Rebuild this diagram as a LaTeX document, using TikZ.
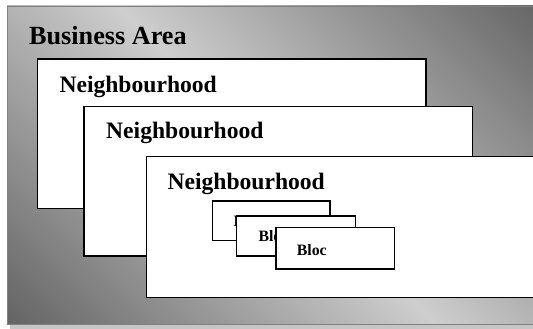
\documentclass[tikz,border=0pt]{standalone}
\usepackage{fontspec}
\setmainfont{Liberation Serif}

\definecolor{areadark}{HTML}{646464}
\definecolor{arealight}{HTML}{CECECE}
\definecolor{areashadow}{HTML}{C6C6C6}
\pgfdeclarehorizontalshading{arearidge}{100bp}{color(0bp)=(areadark); color(14.6bp)=(areadark); color(50bp)=(arealight); color(85.4bp)=(areadark); color(100bp)=(areadark)}

\tikzset{
	areabox/.style={draw=black!50, line width=0.8pt, shading=arearidge, shading angle=45},
	hoodbox/.style={draw=black, fill=white, line width=1.5pt},
	blocbox/.style={draw=black, fill=white, line width=1.3pt},
	arealabel/.style={anchor=base west, inner sep=0pt, font=\fontsize{26.2}{30}\selectfont\bfseries},
	hoodlabel/.style={anchor=base west, inner sep=0pt, font=\fontsize{23.6}{28}\selectfont\bfseries},
	bloclabel/.style={anchor=base west, inner sep=0pt, font=\fontsize{15.8}{18}\selectfont\bfseries}
}

\begin{document}
\begin{tikzpicture}[x=1pt, y=-1pt]
			\useasboundingbox (0, 0) rectangle (533, 329);
			
			%%%%% business area %%%%%
			\fill[areashadow] (10, 10) rectangle (549, 328.5);
			\shadedraw[areabox] (7, 6) rectangle (546, 324);
			\node[arealabel] (area) at (29, 44.3) {Business Area};
			
			%%%%% neighbourhoods %%%%%
			\draw[hoodbox] (37.3, 59) rectangle (426, 208.3);
			\node[hoodlabel] (hoodA) at (59.3, 92.7) {Neighbourhood};
			
			\draw[hoodbox] (84, 106.7) rectangle (472.3, 256);
			\node[hoodlabel] (hoodB) at (106, 138.3) {Neighbourhood};
			
			\draw[hoodbox] (146.7, 156.7) rectangle (536, 297.7);
			\node[hoodlabel] (hoodC) at (167.3, 189.3) {Neighbourhood};
			
			%%%%% blocs %%%%%
			\draw[blocbox] (212.3, 201) rectangle (330, 240.7);
			\node[bloclabel] (blocA) at (233.3, 226.8) {Bloc};
			
			\draw[blocbox] (236.7, 216) rectangle (355.7, 256);
			\node[bloclabel] (blocB) at (258.3, 241.7) {Bloc};
			
			\draw[blocbox] (276, 227.7) rectangle (394.3, 269);
			\node[bloclabel] (blocC) at (296.7, 255) {Bloc};
\end{tikzpicture}
\end{document}
